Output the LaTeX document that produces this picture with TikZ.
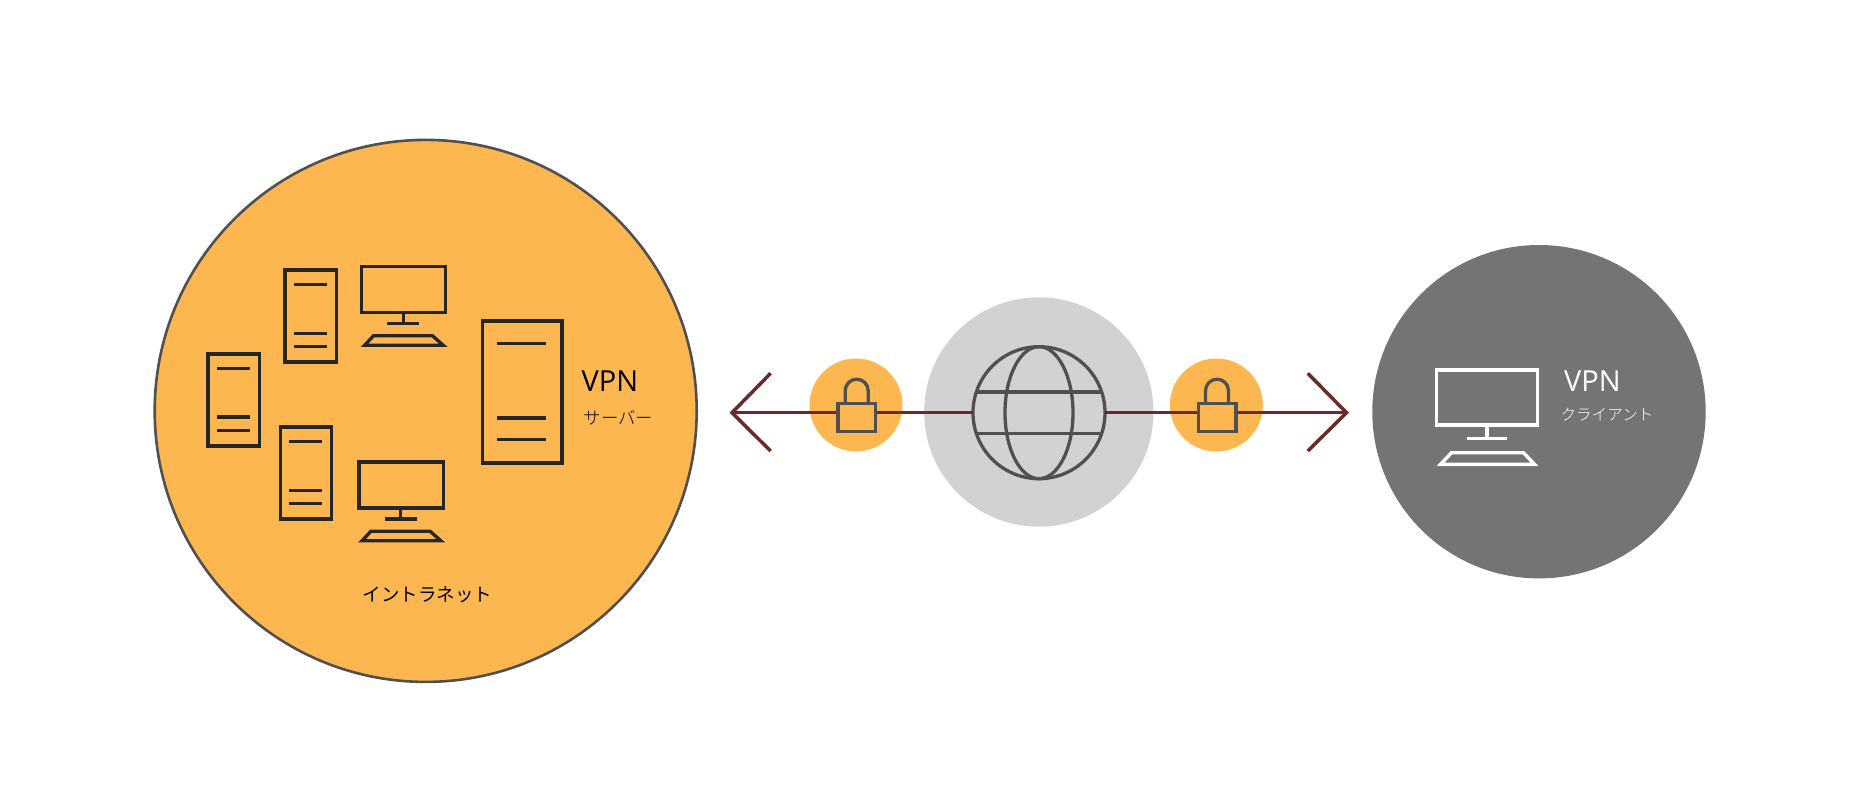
\documentclass[tikz,border=0pt]{standalone}
\usepackage{fontspec}
\setmainfont{Open Sans}
\newfontfamily\cjk{Noto Sans CJK JP}
\newfontfamily\cjklight{Noto Sans CJK JP Light}
\definecolor{orangefill}{HTML}{FDB751}
\definecolor{ringgrey}{HTML}{505050}
\definecolor{globebg}{HTML}{D2D2D2}
\definecolor{clientgrey}{HTML}{737473}
\definecolor{linkred}{HTML}{6B2A2A}
\definecolor{ink}{HTML}{262626}
\tikzset{
  disc/.style={circle,inner sep=0pt,outer sep=0pt,draw=none},
  label text/.style={inner sep=0pt,outer sep=0pt,anchor=base},
  vpntext/.style={label text,font=\fontsize{14.5}{17}\selectfont},
  icon/.style={line width=1.65pt,line join=miter},
  linkline/.style={draw=linkred,line width=1.75pt},
  pics/towericon/.style={code={
    \draw[icon,draw=ink] (0,0) rectangle (51.5,92);
    \draw[icon,draw=ink] (9.1,14.6) -- (41.8,14.6) (9.1,63.2) -- (41.8,63.2) (9.1,76.8) -- (41.8,76.8);
  }},
  pics/monitoricon/.style={code={
    \draw[icon,draw=ink] (0,0) rectangle (84.2,46);
    \draw[icon,draw=ink] (41.7,46) -- (41.7,57) (25.7,57) -- (57.7,57);
    \draw[icon,draw=ink] (12,69.3) -- (71,69.3) -- (81.8,78.8) -- (3,78.8) -- cycle;
  }},
  pics/lockicon/.style={code={
    \draw[icon,draw=ringgrey] (-11.5,-1.5) -- (-11.5,-14.3) arc[start angle=180,end angle=360,radius=11.5] -- (11.5,-1.5);
    \draw[icon,draw=ringgrey,fill=orangefill] (-18.85,-1.5) rectangle (18.85,26.2);
  }},
}
\begin{document}
\begin{tikzpicture}[x=0.5pt,y=-0.5pt]
\useasboundingbox (0,0) rectangle (1849,810);
% intranet
\node[disc,draw=ringgrey,fill=orangefill,line width=1.3pt,minimum size=271pt] (intranet) at (425.7,410.9) {};
\pic at (285,270) {towericon};
\pic at (208,353.9) {towericon};
\pic at (280.3,427) {towericon};
\pic at (361.5,266.5) {monitoricon};
\pic at (359,461.9) {monitoricon};
\draw[icon,draw=ink,line width=1.8pt] (482.4,321) rectangle (562.1,463.2);
\draw[icon,draw=ink,line width=1.8pt] (497,343.6) -- (546.4,343.6) (497,418.2) -- (546.4,418.2) (497,439.6) -- (546.4,439.6);
\node[vpntext,text=black] (vpnserver) at (610,391.2) {VPN};
\node[label text,font=\cjklight\fontsize{8.7}{10}\selectfont,text=black] (server) at (618.5,424) {サーバー};
\node[label text,font=\cjk\fontsize{9.25}{11}\selectfont,text=black] (intralabel) at (427.3,601) {イントラネット};
% middle
\node[disc,fill=globebg,minimum size=114.7pt] (globebg) at (1038.8,412) {};
\node[disc,fill=orangefill,minimum size=46.5pt] (lockdiscL) at (856,405) {};
\node[disc,fill=orangefill,minimum size=46.5pt] (lockdiscR) at (1216.4,405) {};
\node[disc,draw=ringgrey,line width=1.65pt,minimum size=66pt] (globe) at (1039,412.7) {};
\coordinate (tipL) at (732,412.7);
\coordinate (tipR) at (1346.5,412.7);
\coordinate (barbLa) at (770.6,373.3);
\coordinate (barbLb) at (770.6,451);
\coordinate (barbRa) at (1307.8,373.3);
\coordinate (barbRb) at (1307.8,451);
\draw[linkline] (globe.west) -- (tipL);
\draw[linkline] (globe.east) -- (tipR);
\draw[linkline] (barbLa) -- (tipL) -- (barbLb);
\draw[linkline] (barbRa) -- (tipR) -- (barbRb);
\draw[icon,draw=ringgrey] (globe.center) ellipse[x radius=34,y radius=66];
\draw[icon,draw=ringgrey] (1039-62.7,392) -- (1039+62.7,392) (1039-62.7,433.3) -- (1039+62.7,433.3);
\pic at (856.7,405) {lockicon};
\pic at (1217,405) {lockicon};
% client
\node[disc,fill=clientgrey,minimum size=166.7pt] (client) at (1539,411.7) {};
\draw[icon,draw=white,line width=1.7pt] (1436.7,370) rectangle (1537.7,425);
\draw[icon,draw=white,line width=1.7pt] (1487,425) -- (1487,438.7) (1467.3,438.7) -- (1506.7,438.7);
\draw[icon,draw=white,line width=1.7pt] (1451.5,452.7) -- (1523.5,452.7) -- (1534.5,464.3) -- (1440.5,464.3) -- cycle;
\node[vpntext,text=white] (vpnclient) at (1592.5,391) {VPN};
\node[label text,font=\cjklight\fontsize{7.8}{10}\selectfont,text=white] (clientlabel) at (1607,420) {クライアント};
\end{tikzpicture}
\end{document}
